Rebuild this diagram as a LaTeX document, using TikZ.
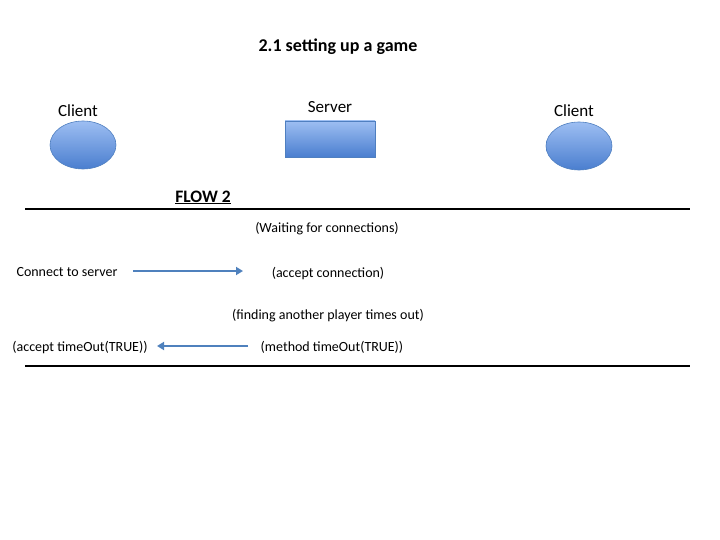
\documentclass[tikz,border=0pt]{standalone}
\usepackage{fontspec}
\setmainfont{Carlito}
\usetikzlibrary{arrows.meta,shapes.geometric}
\definecolor{blueA}{HTML}{9DBEF2}
\definecolor{blueB}{HTML}{4A7ECF}
\definecolor{edgeB}{HTML}{4F7FC0}
\definecolor{arr}{HTML}{4F81BD}
\tikzset{
  lbl/.style={font=\fontsize{14}{16}\selectfont, inner sep=0pt, yshift=-1.5pt},
  head/.style={font=\fontsize{17}{19}\selectfont, inner sep=0pt, yshift=-1.5pt},
  blob/.style={ellipse, draw=edgeB, line width=0.6pt, top color=blueA, bottom color=blueB, minimum width=66pt, minimum height=48pt, inner sep=0pt},
  srv/.style={rectangle, draw=edgeB, line width=0.6pt, top color=blueA, bottom color=blueB, minimum width=90pt, minimum height=36pt, inner sep=0pt},
  flowarr/.style={-{Triangle[length=7pt,width=8pt]}, draw=arr, line width=1.8pt},
  rule/.style={line width=1.3pt, black}
}
\begin{document}
\begin{tikzpicture}[x=1pt,y=-1pt]
\useasboundingbox (0,0) rectangle (720,540);
\node[head, font=\bfseries\fontsize{18}{20}\selectfont] (title) at (338,45) {2.1 setting up a game};
\node[head] (c1t) at (78,109) {Client};
\node[blob] (c1) at (83,145) {};
\node[head] (st) at (330,106) {Server};
\node[srv] (s) at (330,139) {};
\node[head] (c2t) at (574,109) {Client};
\node[blob] (c2) at (579,146) {};
\node[lbl, font=\bfseries\fontsize{17.5}{19}\selectfont] (flow) at (203,196) {\underline{FLOW 2}};
\coordinate (l1a) at (25,209);
\coordinate (l1b) at (690,209);
\draw[rule] (l1a) -- (l1b);
\node[lbl] (wait) at (327,227) {(Waiting for connections)};
\node[lbl] (conn) at (67,271) {Connect to server};
\node[lbl] (acc) at (328,272) {(accept connection)};
\coordinate (a1s) at (133,271);
\coordinate (a1e) at (243,271);
\draw[flowarr] (a1s) -- (a1e);
\node[lbl] (find) at (328,314) {(finding another player times out)};
\node[lbl] (acct) at (80,346) {(accept timeOut(TRUE))};
\node[lbl] (meth) at (332,346) {(method timeOut(TRUE))};
\coordinate (a2s) at (248,346);
\coordinate (a2e) at (157,346);
\draw[flowarr] (a2s) -- (a2e);
\coordinate (l2a) at (25,366);
\coordinate (l2b) at (690,366);
\draw[rule] (l2a) -- (l2b);
\end{tikzpicture}
\end{document}
